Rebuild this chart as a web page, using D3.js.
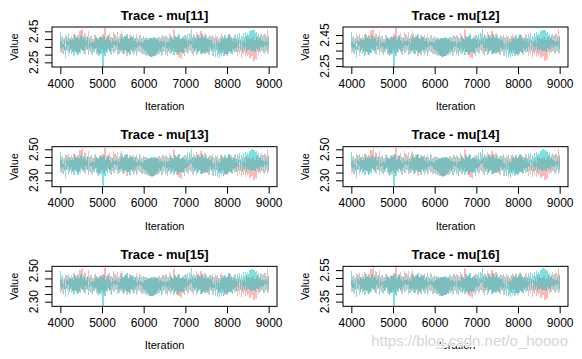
<!DOCTYPE html>
<html><head><meta charset="utf-8">
<script src="https://cdn.jsdelivr.net/npm/d3@7"></script>
<style>
html,body{margin:0;padding:0;background:#fff;}
svg{display:block;font-family:Arial,"Liberation Sans",sans-serif;}
</style></head>
<body><svg id="c" width="582" height="359"></svg>
<script>
// ---- data ----
const titles = ["Trace - mu[11]","Trace - mu[12]","Trace - mu[13]","Trace - mu[14]","Trace - mu[15]","Trace - mu[16]"];
const centers = [2.364, 2.388, 2.403, 2.403, 2.414, 2.464];
const yLimits = [[2.220,2.478],[2.244,2.502],[2.259,2.517],[2.259,2.517],[2.270,2.528],[2.320,2.574]];
const yTicks = [
  [2.25,2.30,2.35,2.40,2.45],[2.25,2.30,2.35,2.40,2.45],
  [2.30,2.35,2.40,2.45,2.50],[2.30,2.35,2.40,2.45,2.50],
  [2.30,2.35,2.40,2.45,2.50],[2.35,2.40,2.45,2.50,2.55]];
const yTickLabels = [["2.25","2.45"],["2.25","2.45"],["2.30","2.50"],["2.30","2.50"],["2.30","2.50"],["2.35","2.55"]];
const xTicks = [4000,5000,6000,7000,8000,9000];
const xLimits = [3800,9200];
const iterStart = 4000, iterStep = 25;
// chain deviations from panel centre, in units of 0.001
const chain1 = [
-55,48,-62,35,-41,66,-28,52,-70,44,
-33,58,-49,71,-38,40,-57,63,-45,92,
-26,104,-51,78,-64,47,-35,88,-42,55,
-60,39,-47,61,-29,50,-68,43,-52,57,
-37,66,-55,108,-44,59,-31,72,-62,49,
-40,83,-53,65,-36,79,-58,54,-47,85,
-61,46,-34,57,-72,41,-49,63,-38,52,
-66,44,-30,68,-55,37,-48,59,-63,42,
-58,45,-64,48,-66,39,-75,40,-80,35,
-72,45,-67,41,-60,52,-45,48,-67,58,
-39,62,-56,47,-43,76,-61,53,-35,98,
-50,44,-69,57,-80,36,-92,49,-58,61,
-44,55,-63,40,-37,67,-52,46,-70,59,
-41,81,-57,64,-34,86,-62,58,-46,73,
-55,43,-68,60,-39,51,-73,47,-48,62,
-36,57,-64,41,-53,69,-45,50,-60,38,
-71,54,-42,63,-58,45,-35,66,-49,40,
-76,51,-62,37,-84,48,-67,33,-79,56,
-70,42,-88,36,-73,50,-104,31,-97,58,
-65,47,-54,71,-43,62,-59,68,-38,101,
-52];
const chain2 = [
82,-47,55,-63,40,-86,58,-38,67,-52,
45,-60,36,-71,59,-44,50,-66,38,-55,
62,-41,48,-58,71,-36,53,-69,44,-50,
57,-65,39,-48,64,-57,42,-72,51,-61,
46,-148,58,-76,35,-54,63,-47,49,-68,
40,-53,66,-39,52,-64,37,-58,70,-45,
48,-62,57,-43,69,-51,39,-67,55,-40,
61,-56,44,-70,50,-38,65,-49,42,-63,
53,-60,46,-70,41,-75,40,-78,44,-74,
48,-70,45,-66,52,-58,40,-71,60,-47,
49,-64,56,-73,43,-52,62,-59,38,-68,
58,-45,47,-61,66,-50,41,-57,54,-72,
63,-48,70,-55,77,-42,100,-60,66,-46,
52,-69,59,-41,45,-63,67,-54,40,-58,
61,-50,48,-66,55,-44,64,-73,42,-78,
50,-81,37,-86,57,-70,46,-75,60,-62,
43,-57,68,-49,51,-64,39,-53,62,-47,
66,-44,72,-40,58,-52,75,-37,80,-46,
73,-35,88,-42,97,-38,92,-45,84,-33,
70,-50,63,-41,57,-55,68,-48,54,-60,
47];
const chainColors = ["#F8766D","#00BFC4"];

// ---- drawing ----
const svg = d3.select("#c");
const colW = 291, rowH = 119.67;
const L = 52, R = 277, T = 27, B = 67;

titles.forEach((title, p) => {
  const col = p % 2, row = Math.floor(p / 2);
  const g = svg.append("g").attr("transform", `translate(${col*colW},${row*rowH})`);
  const x = d3.scaleLinear().domain(xLimits).range([L, R]);
  const y = d3.scaleLinear().domain(yLimits[p]).range([B, T]);

  const line = d3.line()
    .x((d, i) => x(iterStart + i * iterStep))
    .y(d => y(centers[p] + d / 1000));

  const clipId = "clip" + p;
  g.append("clipPath").attr("id", clipId).append("rect")
    .attr("x", L).attr("y", T).attr("width", R - L).attr("height", B - T);
  const plotG = g.append("g").attr("clip-path", `url(#${clipId})`);
  [chain1, chain2].forEach((ch, k) => {
    plotG.append("path").datum(ch).attr("d", line)
      .attr("fill", "none").attr("stroke", chainColors[k])
      .attr("stroke-opacity", 0.5).attr("stroke-width", 1.2)
      .attr("stroke-linejoin", "bevel").attr("shape-rendering", "crispEdges");
  });

  // box
  g.append("rect").attr("x", L).attr("y", T).attr("width", R - L).attr("height", B - T)
    .attr("fill", "none").attr("stroke", "#000").attr("stroke-width", 1);

  // x axis
  const xa = g.append("g").attr("transform", `translate(0,${B})`)
    .call(d3.axisBottom(x).tickValues(xTicks).tickSize(7).tickPadding(5).tickFormat(d3.format("d")));
  xa.select(".domain").remove();
  xa.selectAll("text").attr("font-size", 12).attr("font-family", "Arial, 'Liberation Sans'").attr("fill", "#000");

  // y axis
  const ya = g.append("g").attr("transform", `translate(${L},0)`)
    .call(d3.axisLeft(y).tickValues(yTicks[p]).tickSize(7).tickFormat(""));
  ya.select(".domain").remove();
  yTicks[p].forEach(v => {
    const lab = v.toFixed(2);
    if (yTickLabels[p].includes(lab)) {
      g.append("text").attr("transform", `translate(${L - 14.5},${y(v)}) rotate(-90)`)
        .attr("text-anchor", "middle").attr("font-size", 12).text(lab);
    }
  });

  // titles
  g.append("text").attr("x", (x(4000) + x(9000)) / 2).attr("y", 19.5)
    .attr("text-anchor", "middle").attr("font-size", 13).attr("font-weight", "bold").text(title);
  g.append("text").attr("x", (x(4000) + x(9000)) / 2).attr("y", 110)
    .attr("text-anchor", "middle").attr("font-size", 11).text("Iteration");
  g.append("text").attr("transform", `translate(18,${(T + B) / 2}) rotate(-90)`)
    .attr("text-anchor", "middle").attr("font-size", 11).text("Value");
});

// watermark
svg.append("text").attr("x", 568).attr("y", 346).attr("text-anchor", "end")
  .attr("font-size", 15).attr("fill", "#d6d6d6").attr("stroke", "#fff").attr("stroke-width", 2)
  .attr("paint-order", "stroke").text("https://blog.csdn.net/o_hoooo");
</script></body></html>
